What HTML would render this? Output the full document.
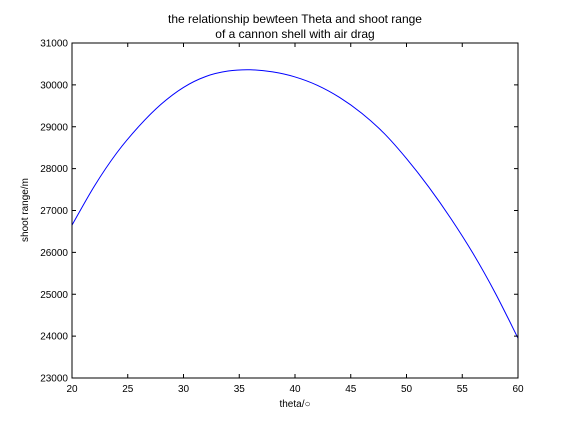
<!DOCTYPE html>
<html><head><meta charset="utf-8"><style>
body{margin:0;background:#fff;}
svg{display:block;font-family:"Liberation Sans","DejaVu Sans",sans-serif;}
</style></head><body>
<svg id="chart" width="576" height="432"></svg>
<script>
const thetaValues=[20,22,24,26,28,30,32,34,36,38,40,42,44,46,48,50,52,54,56,58,60];
const rangeValues=[26650,27580,28370,29010,29540,29940,30200,30330,30360,30310,30190,29990,29700,29320,28840,28240,27560,26800,25960,25010,23950];
const xTicks=[20,25,30,35,40,45,50,55,60];
const yTicks=[23000,24000,25000,26000,27000,28000,29000,30000,31000];
const NS="http://www.w3.org/2000/svg";
const svg=document.getElementById('chart');
const L=72,R=518,T=43,B=378;
const xs=v=>L+(v-20)/(60-20)*(R-L);
const ys=v=>B-(v-23000)/(31000-23000)*(B-T);
function mk(tag,attrs,parent){const e=document.createElementNS(NS,tag);for(const k in attrs)e.setAttribute(k,attrs[k]);(parent||svg).appendChild(e);return e;}
const pts=thetaValues.map((t,i)=>[xs(t),ys(rangeValues[i])]);
let d=`M${pts[0][0]},${pts[0][1]}`;
for(let i=0;i<pts.length-1;i++){const p0=pts[Math.max(0,i-1)],p1=pts[i],p2=pts[i+1],p3=pts[Math.min(pts.length-1,i+2)];
d+=` C${p1[0]+(p2[0]-p0[0])/6},${p1[1]+(p2[1]-p0[1])/6} ${p2[0]-(p3[0]-p1[0])/6},${p2[1]-(p3[1]-p1[1])/6} ${p2[0]},${p2[1]}`;}
const clip=mk('clipPath',{id:'c'});mk('rect',{x:L,y:T,width:R-L,height:B-T},clip);
const line=mk('path',{d:d,fill:'none',stroke:'#0000ff','stroke-width':1,'clip-path':'url(#c)'});


const frame=mk('rect',{x:L,y:T,width:R-L,height:B-T,fill:'none',stroke:'#000','stroke-width':1});


xTicks.forEach(v=>{const x=xs(v);
mk('line',{x1:x,x2:x,y1:B,y2:B-4,stroke:'#000'});mk('line',{x1:x,x2:x,y1:T,y2:T+4,stroke:'#000'});
const t=mk('text',{x:x,y:B+14,'text-anchor':'middle','font-size':10});t.textContent=v;

});
yTicks.forEach(v=>{const y=ys(v);
mk('line',{x1:L,x2:L+4,y1:y,y2:y,stroke:'#000'});mk('line',{x1:R,x2:R-4,y1:y,y2:y,stroke:'#000'});
const t=mk('text',{x:L-4,y:y+3.5,'text-anchor':'end','font-size':10});t.textContent=v;

});
const t1=mk('text',{x:295,y:23,'text-anchor':'middle','font-size':12});t1.textContent='the relationship bewteen Theta and shoot range';


const t2=mk('text',{x:295,y:38,'text-anchor':'middle','font-size':12});t2.textContent='of a cannon shell with air drag';


const xl=mk('text',{x:295,y:407,'text-anchor':'middle','font-size':10});xl.textContent='theta/○';


const yl=mk('text',{x:0,y:0,'text-anchor':'middle','font-size':10,transform:'translate(28,210) rotate(-90)'});yl.textContent='shoot range/m';


</script>
</body></html>
